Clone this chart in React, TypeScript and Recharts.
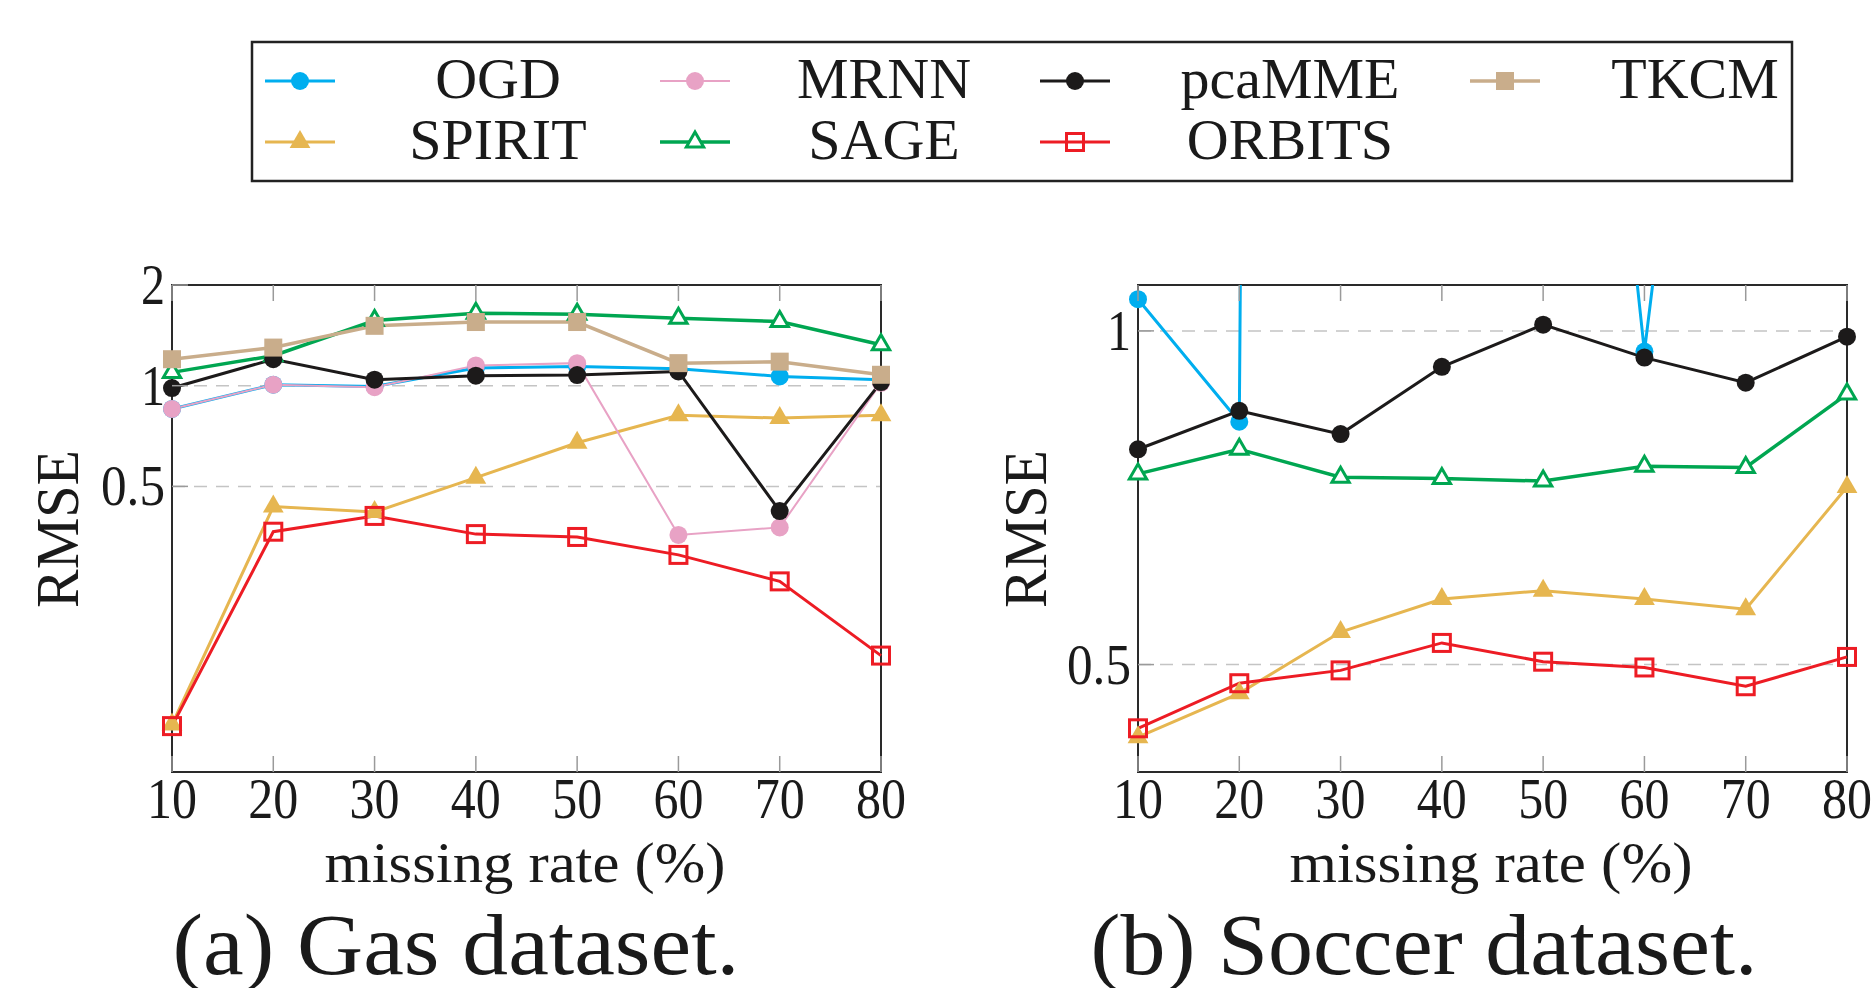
import React from 'react';
import { LineChart, Line, XAxis, YAxis, CartesianGrid, ReferenceArea } from 'recharts';

// ---------- data ----------
const MISSING_RATE = [10, 20, 30, 40, 50, 60, 70, 80];

const GAS_OGD = [0.852, 1.007, 0.995, 1.129, 1.142, 1.124, 1.066, 1.042];
const GAS_SPIRIT = [0.097, 0.435, 0.419, 0.531, 0.675, 0.816, 0.8, 0.816];
const GAS_MRNN = [0.852, 1.007, 0.99, 1.15, 1.168, 0.358, 0.377, 1.02];
const GAS_SAGE = [1.096, 1.229, 1.566, 1.646, 1.636, 1.59, 1.555, 1.325];
const GAS_PCAMME = [0.984, 1.2, 1.042, 1.071, 1.076, 1.103, 0.422, 1.025];
const GAS_ORBITS = [0.096, 0.366, 0.408, 0.36, 0.353, 0.312, 0.26, 0.156];
const GAS_TKCM = [1.2, 1.3, 1.51, 1.55, 1.55, 1.168, 1.18, 1.078];

const SOCCER_OGD = [1.068, 0.828, 1e12, 1e6, 6.9, 0.958, 5.3, 20];
const SOCCER_SPIRIT = [0.43, 0.471, 0.535, 0.573, 0.583, 0.573, 0.561, 0.723];
const SOCCER_SAGE = [0.743, 0.782, 0.738, 0.736, 0.732, 0.755, 0.753, 0.877];
const SOCCER_PCAMME = [0.782, 0.847, 0.807, 0.928, 1.013, 0.946, 0.898, 0.988];
const SOCCER_ORBITS = [0.438, 0.481, 0.494, 0.523, 0.503, 0.497, 0.478, 0.508];

const SERIES_NAMES = ['OGD', 'SPIRIT', 'MRNN', 'SAGE', 'pcaMME', 'ORBITS', 'TKCM'];

const GAS_Y_DOMAIN = [0.07, 2];
const GAS_Y_TICKS = [0.5, 1, 2];
const SOCCER_Y_DOMAIN = [0.4, 1.1];
const SOCCER_Y_TICKS = [0.5, 1];

const X_LABEL = 'missing rate (%)';
const Y_LABEL = 'RMSE';
const CAPTION_GAS = '(a) Gas dataset.';
const CAPTION_SOCCER = '(b) Soccer dataset.';

// ---------- styles ----------
const FONT = 'Liberation Serif, DejaVu Serif, serif';
const TXT: React.CSSProperties = { fontFamily: FONT };

const STYLE: Record<string, { color: string; marker: string; width: number }> = {
  OGD: { color: '#00AEEF', marker: 'circle', width: 3 },
  SPIRIT: { color: '#E6B650', marker: 'triFilled', width: 3 },
  MRNN: { color: '#E8A2C5', marker: 'circle', width: 2 },
  SAGE: { color: '#00A651', marker: 'triOpen', width: 3.5 },
  pcaMME: { color: '#1C1A1A', marker: 'circle', width: 3 },
  ORBITS: { color: '#ED1C24', marker: 'sqOpen', width: 3 },
  TKCM: { color: '#C9AD8B', marker: 'sqFilled', width: 3.5 },
};

const PLOT_TOP = 285;
const PLOT_BOTTOM = 772;
const CHART_H = 988;
const X_AXIS_H = 60;
const Y_AXIS_W = 60;

function Marker({ kind, cx, cy, color }: { kind: string; cx: number; cy: number; color: string }) {
  if (!Number.isFinite(cx) || !Number.isFinite(cy)) return null;
  if (kind === 'circle') return <circle cx={cx} cy={cy} r={9} fill={color} />;
  if (kind === 'triFilled') {
    const r = 12;
    return (
      <polygon
        points={`${cx},${cy - r} ${cx + 0.866 * r},${cy + 0.5 * r} ${cx - 0.866 * r},${cy + 0.5 * r}`}
        fill={color}
      />
    );
  }
  if (kind === 'triOpen') {
    const r = 10;
    return (
      <polygon
        points={`${cx},${cy - r} ${cx + 0.866 * r},${cy + 0.5 * r} ${cx - 0.866 * r},${cy + 0.5 * r}`}
        fill="#fff"
        stroke={color}
        strokeWidth={3}
      />
    );
  }
  if (kind === 'sqFilled') {
    const s = 18;
    return <rect x={cx - s / 2} y={cy - s / 2} width={s} height={s} fill={color} />;
  }
  if (kind === 'sqOpen') {
    const s = 17;
    return <rect x={cx - s / 2} y={cy - s / 2} width={s} height={s} fill="none" stroke={color} strokeWidth={3} />;
  }
  return null;
}

function makeDot(name: string) {
  const st = STYLE[name];
  return (p: any) => (
    <Marker key={`${name}-${p.index}`} kind={st.marker} cx={p.cx} cy={p.cy} color={st.color} />
  );
}

function buildRows(series: Record<string, number[]>) {
  return MISSING_RATE.map((x, i) => {
    const row: Record<string, number> = { x };
    Object.keys(series).forEach((k) => {
      row[k] = series[k][i];
    });
    return row;
  });
}

function renderXTick(props: any) {
  const { x, payload, index } = props;
  const label = String(payload.value);
  return (
    <g key={`xt-${index}`}>
      <line x1={x} x2={x} y1={PLOT_BOTTOM} y2={PLOT_BOTTOM - 16} stroke="#9a9a9a" strokeWidth={1.5} />
      <line x1={x} x2={x} y1={PLOT_TOP} y2={PLOT_TOP + 16} stroke="#9a9a9a" strokeWidth={1.5} />
      <text
        x={x}
        y={PLOT_BOTTOM + 46}
        textAnchor="middle"
        style={TXT}
        fontSize={56}
        textLength={label.length * 25}
        lengthAdjust="spacingAndGlyphs"
        fill="#1a1a1a"
      >
        {label}
      </text>
    </g>
  );
}

function makeYTick(plotLeft: number) {
  return (props: any) => {
    const { y, payload, index } = props;
    const label = String(payload.value);
    const w = label === '0.5' ? 64 : 24;
    return (
      <g key={`yt-${index}`}>
        <line x1={plotLeft} x2={plotLeft + 16} y1={y} y2={y} stroke="#9a9a9a" strokeWidth={1.5} />
        <text
          x={plotLeft - 7}
          y={y + 19}
          textAnchor="end"
          style={TXT}
          fontSize={56}
          textLength={w}
          lengthAdjust="spacingAndGlyphs"
          fill="#1a1a1a"
        >
          {label}
        </text>
      </g>
    );
  };
}

type PanelProps = {
  left: number;
  width: number;
  plotLeft: number;
  plotRight: number;
  series: Record<string, number[]>;
  overflowSeries?: string;
  yDomain: number[];
  yTicks: number[];
};

function Panel({ left, width, plotLeft, plotRight, series, overflowSeries, yDomain, yTicks }: PanelProps) {
  const data = buildRows(series);
  const names = SERIES_NAMES.filter((n) => n in series);
  return (
    <div style={{ position: 'absolute', left, top: 0, width, height: CHART_H }}>
      <LineChart
        width={width}
        height={CHART_H}
        data={data}
        margin={{
          top: PLOT_TOP,
          bottom: CHART_H - PLOT_BOTTOM - X_AXIS_H,
          left: plotLeft - Y_AXIS_W,
          right: width - plotRight,
        }}
      >
        <CartesianGrid vertical={false} stroke="#c4c4c4" strokeWidth={1.5} strokeDasharray="13 9" />
        <XAxis
          dataKey="x"
          type="number"
          domain={[10, 80]}
          ticks={MISSING_RATE}
          height={X_AXIS_H}
          axisLine={false}
          tickLine={false}
          tick={renderXTick}
          interval={0}
        />
        <YAxis
          type="number"
          scale="log"
          domain={yDomain}
          ticks={yTicks}
          width={Y_AXIS_W}
          axisLine={false}
          tickLine={false}
          tick={makeYTick(plotLeft)}
          interval={0}
        />
        {overflowSeries && (
          <YAxis yAxisId="overflow" type="number" scale="log" domain={yDomain} allowDataOverflow hide />
        )}
        <ReferenceArea
          x1={10}
          x2={80}
          y1={yDomain[0]}
          y2={yDomain[1]}
          fill="none"
          fillOpacity={0}
          stroke="#2a2a2a"
          strokeWidth={2}
        />
        {names.map((n) => {
          const st = STYLE[n];
          if (n === overflowSeries) {
            return (
              <Line
                key={n}
                yAxisId="overflow"
                dataKey={n}
                stroke={st.color}
                strokeWidth={st.width}
                isAnimationActive={false}
                dot={{ r: 9, fill: st.color, stroke: st.color, strokeWidth: 0, clipDot: false } as any}
                activeDot={false}
              />
            );
          }
          return (
            <Line
              key={n}
              dataKey={n}
              stroke={st.color}
              strokeWidth={st.width}
              isAnimationActive={false}
              dot={makeDot(n)}
              activeDot={false}
            />
          );
        })}
      </LineChart>
    </div>
  );
}

function Overlay() {
  const colMarkerX = [300, 695, 1075, 1505];
  const colTextX = [498, 884, 1290, 1695];
  const rowY = [81, 142];
  return (
    <svg
      width={1872}
      height={988}
      style={{ position: 'absolute', left: 0, top: 0, pointerEvents: 'none', fontFamily: FONT }}
    >
      <rect x={252} y={42} width={1540} height={139} fill="none" stroke="#222" strokeWidth={2.5} />
      {SERIES_NAMES.map((n, i) => {
        const col = Math.floor(i / 2);
        const row = i % 2;
        const mx = colMarkerX[col];
        const my = rowY[row];
        const st = STYLE[n];
        return (
          <g key={n}>
            <line x1={mx - 35} x2={mx + 35} y1={my} y2={my} stroke={st.color} strokeWidth={st.width} />
            <Marker kind={st.marker} cx={mx} cy={my} color={st.color} />
            <text x={colTextX[col]} y={my + 17} textAnchor="middle" style={TXT} fontSize={58} fill="#1a1a1a">
              {n}
            </text>
          </g>
        );
      })}
      <text
        transform="translate(78,529) rotate(-90)"
        textAnchor="middle"
        style={TXT}
        fontSize={62}
        textLength={158}
        lengthAdjust="spacingAndGlyphs"
        fill="#1a1a1a"
      >
        {Y_LABEL}
      </text>
      <text
        transform="translate(1046,529) rotate(-90)"
        textAnchor="middle"
        style={TXT}
        fontSize={62}
        textLength={158}
        lengthAdjust="spacingAndGlyphs"
        fill="#1a1a1a"
      >
        {Y_LABEL}
      </text>
      <text x={525} y={882} textAnchor="middle" style={TXT} fontSize={58} textLength={401} lengthAdjust="spacingAndGlyphs" fill="#1a1a1a">
        {X_LABEL}
      </text>
      <text x={1491} y={882} textAnchor="middle" style={TXT} fontSize={58} textLength={403} lengthAdjust="spacingAndGlyphs" fill="#1a1a1a">
        {X_LABEL}
      </text>
      <text x={456} y={974} textAnchor="middle" style={TXT} fontSize={86} textLength={567} lengthAdjust="spacingAndGlyphs" fill="#1a1a1a">
        {CAPTION_GAS}
      </text>
      <text x={1424} y={974} textAnchor="middle" style={TXT} fontSize={86} textLength={667} lengthAdjust="spacingAndGlyphs" fill="#1a1a1a">
        {CAPTION_SOCCER}
      </text>
    </svg>
  );
}

export default function App() {
  const gas = {
    OGD: GAS_OGD,
    SPIRIT: GAS_SPIRIT,
    MRNN: GAS_MRNN,
    SAGE: GAS_SAGE,
    pcaMME: GAS_PCAMME,
    ORBITS: GAS_ORBITS,
    TKCM: GAS_TKCM,
  };
  const soccer = {
    OGD: SOCCER_OGD,
    SPIRIT: SOCCER_SPIRIT,
    SAGE: SOCCER_SAGE,
    pcaMME: SOCCER_PCAMME,
    ORBITS: SOCCER_ORBITS,
  };
  return (
    <div
      style={{
        position: 'absolute',
        left: 0,
        top: 0,
        width: 1872,
        height: 988,
        background: '#fff',
        overflow: 'hidden',
      }}
    >
      <Panel
        left={0}
        width={940}
        plotLeft={172}
        plotRight={881}
        series={gas}
        yDomain={GAS_Y_DOMAIN}
        yTicks={GAS_Y_TICKS}
      />
      <Panel
        left={940}
        width={932}
        plotLeft={198}
        plotRight={907}
        series={soccer}
        overflowSeries="OGD"
        yDomain={SOCCER_Y_DOMAIN}
        yTicks={SOCCER_Y_TICKS}
      />
      <Overlay />
    </div>
  );
}
